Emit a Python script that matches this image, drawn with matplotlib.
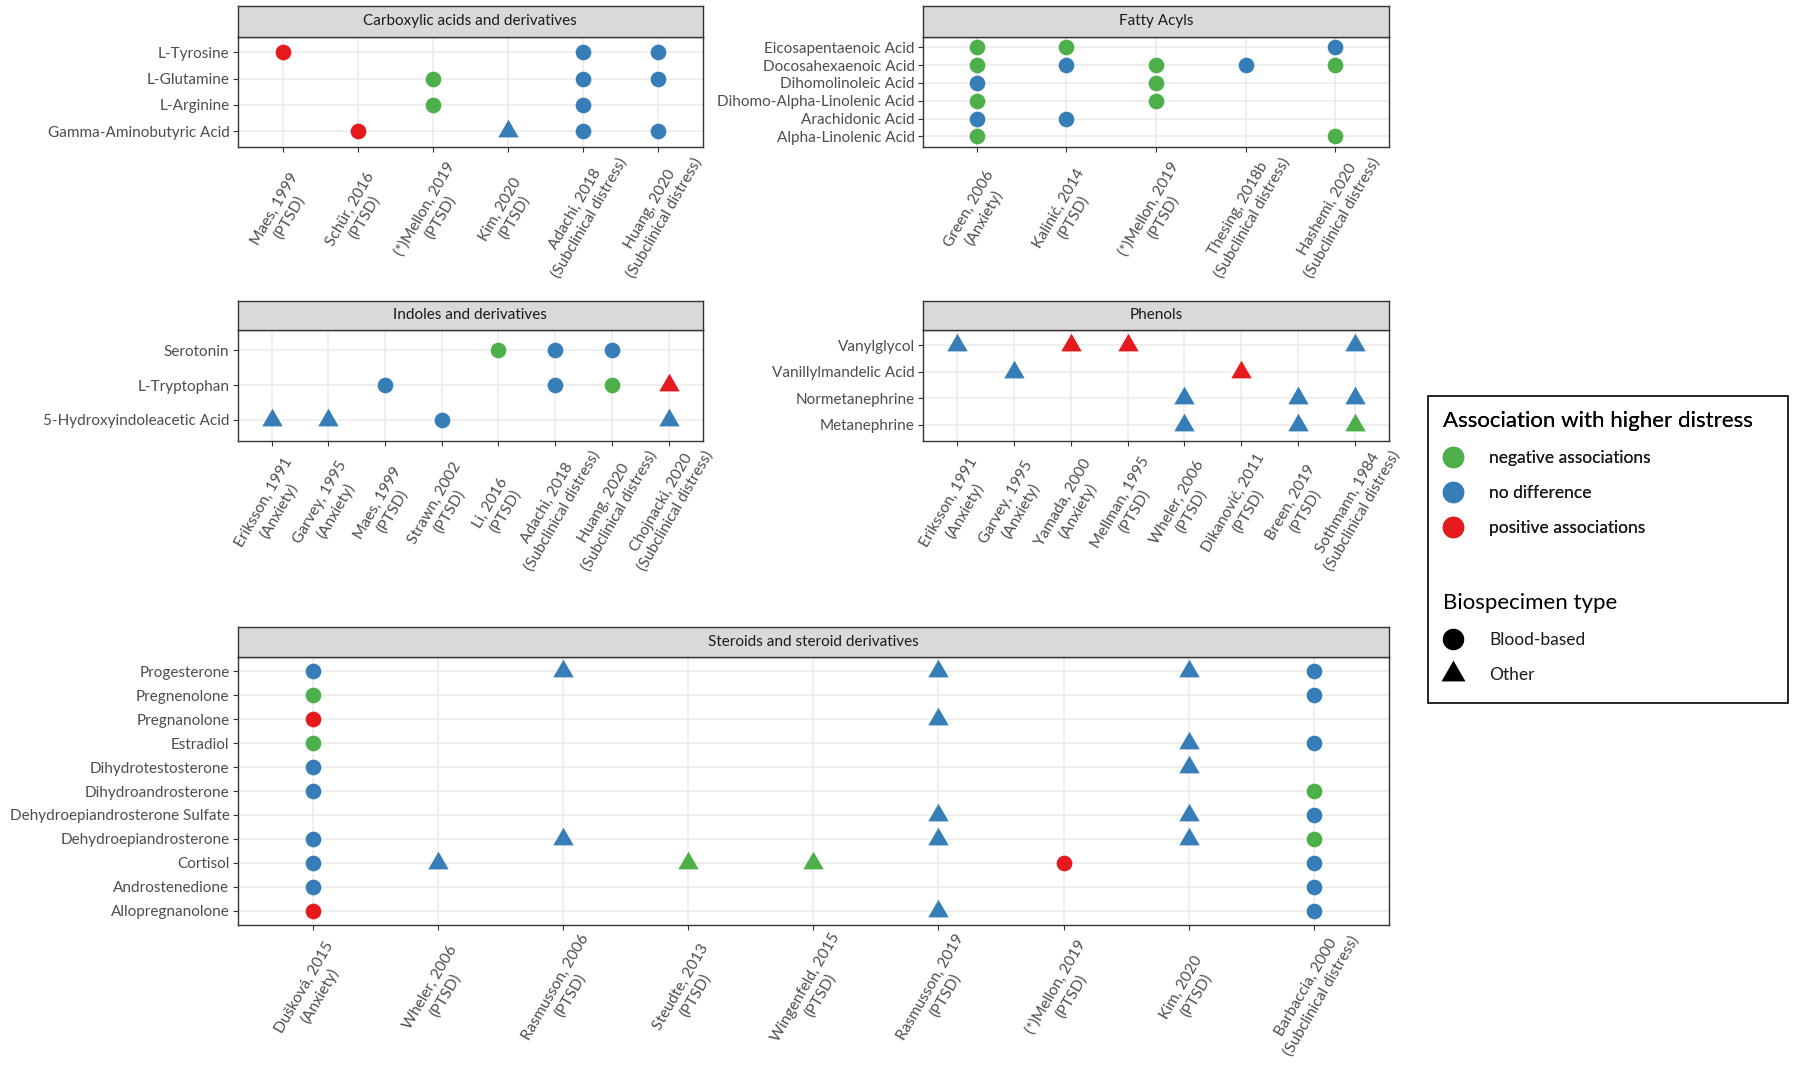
import matplotlib
matplotlib.use('Agg')
import matplotlib.pyplot as plt
from matplotlib.lines import Line2D
from matplotlib.patches import Rectangle

plt.rcParams['font.family'] = ['Lato', 'DejaVu Sans']

W, H = 1800, 1071

# ---------------- legend levels ----------------
assoc_codes = ['N', '0', 'P']
assoc_labels = ['negative associations', 'no difference', 'positive associations']
assoc_colors = ['#4DAF4A', '#377EB8', '#E41A1C']
spec_codes = ['B', 'O']
spec_labels = ['Blood-based', 'Other']

# ---------------- Carboxylic acids and derivatives ----------------
carb_title = 'Carboxylic acids and derivatives'
carb_studies = ['Maes, 1999\n(PTSD)', 'Schür, 2016\n(PTSD)', '(*)Mellon, 2019\n(PTSD)',
                'Kim, 2020\n(PTSD)', 'Adachi, 2018\n(Subclinical distress)',
                'Huang, 2020\n(Subclinical distress)']
carb_metabolites = ['L-Tyrosine', 'L-Glutamine', 'L-Arginine', 'Gamma-Aminobutyric Acid']
carb_met = ['L-Tyrosine', 'L-Tyrosine', 'L-Tyrosine',
            'L-Glutamine', 'L-Glutamine', 'L-Glutamine',
            'L-Arginine', 'L-Arginine',
            'Gamma-Aminobutyric Acid', 'Gamma-Aminobutyric Acid',
            'Gamma-Aminobutyric Acid', 'Gamma-Aminobutyric Acid']
carb_study = [0, 4, 5, 2, 4, 5, 2, 4, 1, 3, 4, 5]
carb_assoc = ['P', '0', '0', 'N', '0', '0', 'N', '0', 'P', '0', '0', '0']
carb_spec = ['B', 'B', 'B', 'B', 'B', 'B', 'B', 'B', 'B', 'O', 'B', 'B']

# ---------------- Fatty Acyls ----------------
fatty_title = 'Fatty Acyls'
fatty_studies = ['Green, 2006\n(Anxiety)', 'Kalinić, 2014\n(PTSD)', '(*)Mellon, 2019\n(PTSD)',
                 'Thesing, 2018b\n(Subclinical distress)', 'Hashemi, 2020\n(Subclinical distress)']
fatty_metabolites = ['Eicosapentaenoic Acid', 'Docosahexaenoic Acid', 'Dihomolinoleic Acid',
                     'Dihomo-Alpha-Linolenic Acid', 'Arachidonic Acid', 'Alpha-Linolenic Acid']
fatty_met = ['Eicosapentaenoic Acid'] * 3 + ['Docosahexaenoic Acid'] * 5 + \
            ['Dihomolinoleic Acid'] * 2 + ['Dihomo-Alpha-Linolenic Acid'] * 2 + \
            ['Arachidonic Acid'] * 2 + ['Alpha-Linolenic Acid'] * 2
fatty_study = [0, 1, 4, 0, 1, 2, 3, 4, 0, 2, 0, 2, 0, 1, 0, 4]
fatty_assoc = ['N', 'N', '0', 'N', '0', 'N', '0', 'N', '0', 'N', 'N', 'N', '0', '0', 'N', 'N']
fatty_spec = ['B'] * 16

# ---------------- Indoles and derivatives ----------------
indole_title = 'Indoles and derivatives'
indole_studies = ['Eriksson, 1991\n(Anxiety)', 'Garvey, 1995\n(Anxiety)', 'Maes, 1999\n(PTSD)',
                  'Strawn, 2002\n(PTSD)', 'Li, 2016\n(PTSD)', 'Adachi, 2018\n(Subclinical distress)',
                  'Huang, 2020\n(Subclinical distress)', 'Chojnacki, 2020\n(Subclinical distress)']
indole_metabolites = ['Serotonin', 'L-Tryptophan', '5-Hydroxyindoleacetic Acid']
indole_met = ['Serotonin'] * 3 + ['L-Tryptophan'] * 4 + ['5-Hydroxyindoleacetic Acid'] * 4
indole_study = [4, 5, 6, 2, 5, 6, 7, 0, 1, 3, 7]
indole_assoc = ['N', '0', '0', '0', '0', 'N', 'P', '0', '0', '0', '0']
indole_spec = ['B', 'B', 'B', 'B', 'B', 'B', 'O', 'O', 'O', 'B', 'O']

# ---------------- Phenols ----------------
phenol_title = 'Phenols'
phenol_studies = ['Eriksson, 1991\n(Anxiety)', 'Garvey, 1995\n(Anxiety)', 'Yamada, 2000\n(Anxiety)',
                  'Mellman, 1995\n(PTSD)', 'Wheler, 2006\n(PTSD)', 'Dikanović, 2011\n(PTSD)',
                  'Breen, 2019\n(PTSD)', 'Sothmann, 1984\n(Subclinical distress)']
phenol_metabolites = ['Vanylglycol', 'Vanillylmandelic Acid', 'Normetanephrine', 'Metanephrine']
phenol_met = ['Vanylglycol'] * 4 + ['Vanillylmandelic Acid'] * 2 + \
             ['Normetanephrine'] * 3 + ['Metanephrine'] * 3
phenol_study = [0, 2, 3, 7, 1, 5, 4, 6, 7, 4, 6, 7]
phenol_assoc = ['0', 'P', 'P', '0', '0', 'P', '0', '0', '0', '0', '0', 'N']
phenol_spec = ['O'] * 12

# ---------------- Steroids and steroid derivatives ----------------
ster_title = 'Steroids and steroid derivatives'
ster_studies = ['Dušková, 2015\n(Anxiety)', 'Wheler, 2006\n(PTSD)', 'Rasmusson, 2006\n(PTSD)',
                'Steudte, 2013\n(PTSD)', 'Wingenfeld, 2015\n(PTSD)', 'Rasmusson, 2019\n(PTSD)',
                '(*)Mellon, 2019\n(PTSD)', 'Kim, 2020\n(PTSD)',
                'Barbaccia, 2000\n(Subclinical distress)']
ster_metabolites = ['Progesterone', 'Pregnenolone', 'Pregnanolone', 'Estradiol',
                    'Dihydrotestosterone', 'Dihydroandrosterone',
                    'Dehydroepiandrosterone Sulfate', 'Dehydroepiandrosterone', 'Cortisol',
                    'Androstenedione', 'Allopregnanolone']
ster_met = ['Progesterone'] * 5 + ['Pregnenolone'] * 2 + ['Pregnanolone'] * 2 + \
           ['Estradiol'] * 3 + ['Dihydrotestosterone'] * 2 + ['Dihydroandrosterone'] * 2 + \
           ['Dehydroepiandrosterone Sulfate'] * 3 + ['Dehydroepiandrosterone'] * 5 + \
           ['Cortisol'] * 6 + ['Androstenedione'] * 2 + ['Allopregnanolone'] * 3
ster_study = [0, 2, 5, 7, 8,
              0, 8,
              0, 5,
              0, 7, 8,
              0, 7,
              0, 8,
              5, 7, 8,
              0, 2, 5, 7, 8,
              0, 1, 3, 4, 6, 8,
              0, 8,
              0, 5, 8]
ster_assoc = ['0', '0', '0', '0', '0',
              'N', '0',
              'P', '0',
              'N', '0', '0',
              '0', '0',
              '0', 'N',
              '0', '0', '0',
              '0', '0', '0', '0', 'N',
              '0', '0', 'N', 'N', 'P', '0',
              '0', '0',
              'P', '0', '0']
ster_spec = ['B', 'O', 'O', 'O', 'B',
             'B', 'B',
             'B', 'O',
             'B', 'O', 'B',
             'B', 'O',
             'B', 'B',
             'O', 'O', 'B',
             'B', 'O', 'O', 'O', 'B',
             'B', 'O', 'O', 'O', 'B', 'B',
             'B', 'B',
             'B', 'O', 'B']

# ---------------- styling ----------------
TRI = [(0, 1), (-0.866, -0.5), (0.866, -0.5), (0, 1)]
spec_markers = ['o', TRI]
spec_ms_data = [11.3, 17.0]
spec_ms_leg = [15.5, 20.0]
Y_FS = 11
X_FS = 11.2
STRIP_FS = 11
TXT_COL = '#4D4D4D'
LINE_COL = '#333333'
GRID_COL = '#EBEBEB'

fig = plt.figure(figsize=(W / 100, H / 100), dpi=100)
fig.patch.set_facecolor('white')


def panel(l, r, st, sb, b, title, studies, metabolites, p_met, p_study, p_assoc, p_spec):
    ax = fig.add_axes([l / W, 1 - b / H, (r - l) / W, (b - sb) / H])
    sax = fig.add_axes([l / W, 1 - sb / H, (r - l) / W, (sb - st) / H])
    sax.set_facecolor('#D9D9D9')
    sax.set_xticks([])
    sax.set_yticks([])
    for sp in sax.spines.values():
        sp.set_color(LINE_COL)
        sp.set_linewidth(1.0)
    sax.text(0.5, 0.5, title, ha='center', va='center', fontsize=STRIP_FS,
             color='#1A1A1A', transform=sax.transAxes)

    n, m = len(studies), len(metabolites)
    ax.set_xlim(0.4, n + 0.6)
    ax.set_ylim(0.4, m + 0.6)
    ax.set_axisbelow(True)
    ax.grid(True, color=GRID_COL, lw=1.1)
    for sp in ax.spines.values():
        sp.set_color(LINE_COL)
        sp.set_linewidth(1.0)

    xs = [s + 1 for s in p_study]
    ys = [m - metabolites.index(mm) for mm in p_met]
    for ai, acode in enumerate(assoc_codes):
        for si, scode in enumerate(spec_codes):
            px = [x for x, a, s in zip(xs, p_assoc, p_spec) if a == acode and s == scode]
            py = [y for y, a, s in zip(ys, p_assoc, p_spec) if a == acode and s == scode]
            if px:
                ax.plot(px, py, ls='none', marker=spec_markers[si],
                        markersize=spec_ms_data[si], color=assoc_colors[ai],
                        markeredgewidth=0, zorder=3, clip_on=False)

    ax.set_yticks(range(1, m + 1))
    ax.set_yticklabels(metabolites[::-1], fontsize=Y_FS, color=TXT_COL)
    ax.set_xticks(range(1, n + 1))
    ax.set_xticklabels(studies, rotation=60, ha='center', va='center',
                       rotation_mode='anchor', fontsize=X_FS, color=TXT_COL)
    for t in ax.get_xticklabels():
        t.set_multialignment('center')
        t.set_linespacing(1.25)
    ax.tick_params(axis='both', length=3.3, width=0.8, color=LINE_COL)
    ax.tick_params(axis='y', pad=2.6)
    return ax


axes = []
axes.append(panel(237.6, 702.6, 5.7, 36.7, 147, carb_title, carb_studies, carb_metabolites,
                  carb_met, carb_study, carb_assoc, carb_spec))
axes.append(panel(923, 1389, 5.7, 36.7, 147, fatty_title, fatty_studies, fatty_metabolites,
                  fatty_met, fatty_study, fatty_assoc, fatty_spec))
axes.append(panel(237.6, 702.6, 300.8, 329.5, 440.8, indole_title, indole_studies,
                  indole_metabolites, indole_met, indole_study, indole_assoc, indole_spec))
axes.append(panel(923, 1389, 300.8, 329.5, 440.8, phenol_title, phenol_studies,
                  phenol_metabolites, phenol_met, phenol_study, phenol_assoc, phenol_spec))
axes.append(panel(237.6, 1389, 626.8, 656.7, 925.3, ster_title, ster_studies,
                  ster_metabolites, ster_met, ster_study, ster_assoc, ster_spec))

# center the rotated x labels vertically in their label band (like ggplot)
fig.canvas.draw()
renderer = fig.canvas.get_renderer()
for ax in axes:
    hs = [t.get_window_extent(renderer).height for t in ax.get_xticklabels()]
    maxh = max(hs)
    ax.tick_params(axis='x', pad=(maxh / 2 - 5) * 72 / 100)

# ---------------- legends ----------------
LEG_KW = dict(loc='upper left', frameon=False, fontsize=12.5, title_fontsize=16,
              alignment='left', handlelength=1.2, handletextpad=1.45, labelspacing=1.1,
              borderpad=0, borderaxespad=0)
h1 = [Line2D([], [], ls='none', marker='o', markersize=spec_ms_leg[0], color=c,
             markeredgewidth=0) for c in assoc_colors]
leg1 = fig.legend(h1, assoc_labels, title='Association with higher distress',
                  bbox_to_anchor=(1443 / W, 1 - 411 / H), **LEG_KW)
for t in leg1.get_texts():
    t.set_color('#1A1A1A')

h2 = [Line2D([], [], ls='none', marker=mk, markersize=ms, color='black', markeredgewidth=0)
      for mk, ms in zip(spec_markers, spec_ms_leg)]
leg2 = fig.legend(h2, spec_labels, title='Biospecimen type',
                  bbox_to_anchor=(1443 / W, 1 - 593 / H), **LEG_KW)
for t in leg2.get_texts():
    t.set_color('#1A1A1A')
fig.add_artist(leg1)

fig.patches.append(Rectangle((1428 / W, 1 - 703 / H), 360 / W, 307 / H,
                             transform=fig.transFigure, fill=False,
                             edgecolor='black', linewidth=1.2))

fig.savefig('out.png', dpi=100)
